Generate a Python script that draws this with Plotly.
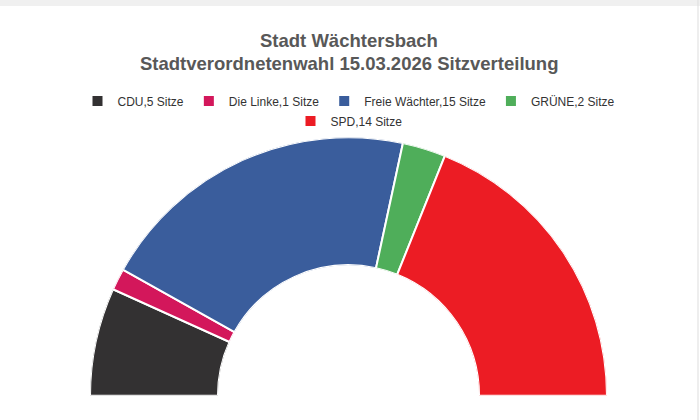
import plotly.graph_objects as go

parties = ["CDU", "Die Linke", "Freie Wächter", "GRÜNE", "SPD"]
seats = [5, 1, 15, 2, 14]
colors = ["#333132", "#d3175b", "#3a5d9c", "#4fae5a", "#ec1c24"]
title_lines = ["Stadt Wächtersbach", "Stadtverordnetenwahl 15.03.2026 Sitzverteilung"]

total = sum(seats)
fig = go.Figure()
cum = 0
for i, (p, s, c) in enumerate(zip(parties, seats, colors)):
    w = s / total * 180.0
    center = cum + w / 2
    cum += w
    fig.add_trace(go.Barpolar(
        r=[1], theta=[center], width=[w], base=0,
        name=f"{p},{s} Sitze",
        marker=dict(color=c, line=dict(color="white", width=2)),
        legend="legend2" if p == "SPD" else "legend",
        hoverinfo="name",
    ))

title_font = dict(size=18.5, color="#585858", family="Liberation Sans, Arial, sans-serif")
annotations = []
for txt, ypx in zip(title_lines, [41, 63]):
    annotations.append(dict(
        text="<b>" + txt + "</b>", xref="paper", yref="paper",
        x=349/700, xanchor="center", y=1 - ypx/420, yanchor="middle",
        showarrow=False, font=title_font,
    ))

fig.update_layout(
    width=700, height=420,
    margin=dict(l=0, r=0, t=0, b=0),
    paper_bgcolor="white",
    plot_bgcolor="white",
    font=dict(family="Liberation Sans, Arial, sans-serif", color="#333333"),
    annotations=annotations,
    polar=dict(
        domain=dict(x=[90/700, 607/700], y=[24/420, 283/420]),
        sector=[0, 180],
        hole=0.505,
        bgcolor="white",
        bargap=0,
        radialaxis=dict(visible=False, range=[0, 1]),
        angularaxis=dict(visible=False, direction="clockwise", rotation=180),
    ),
    legend=dict(
        orientation="h", x=349/700, xanchor="center", y=1 - 101/420, yanchor="middle",
        font=dict(size=12, color="#333333"), bgcolor="rgba(0,0,0,0)",
    ),
    legend2=dict(
        orientation="h", x=349/700, xanchor="center", y=1 - 121/420, yanchor="middle",
        font=dict(size=12, color="#333333"), bgcolor="rgba(0,0,0,0)",
    ),
    shapes=[
        dict(type="rect", xref="paper", yref="paper", x0=0, x1=1, y0=1 - 6/420, y1=1,
             fillcolor="#f0f0f0", line=dict(width=0), layer="below"),
        dict(type="line", xref="paper", yref="paper", x0=698/700, x1=698/700, y0=0, y1=1,
             line=dict(color="#dddddd", width=1)),
    ],
)

fig.write_html("out.html", config={"displayModeBar": False},
               post_script="document.body.style.margin='0';")
